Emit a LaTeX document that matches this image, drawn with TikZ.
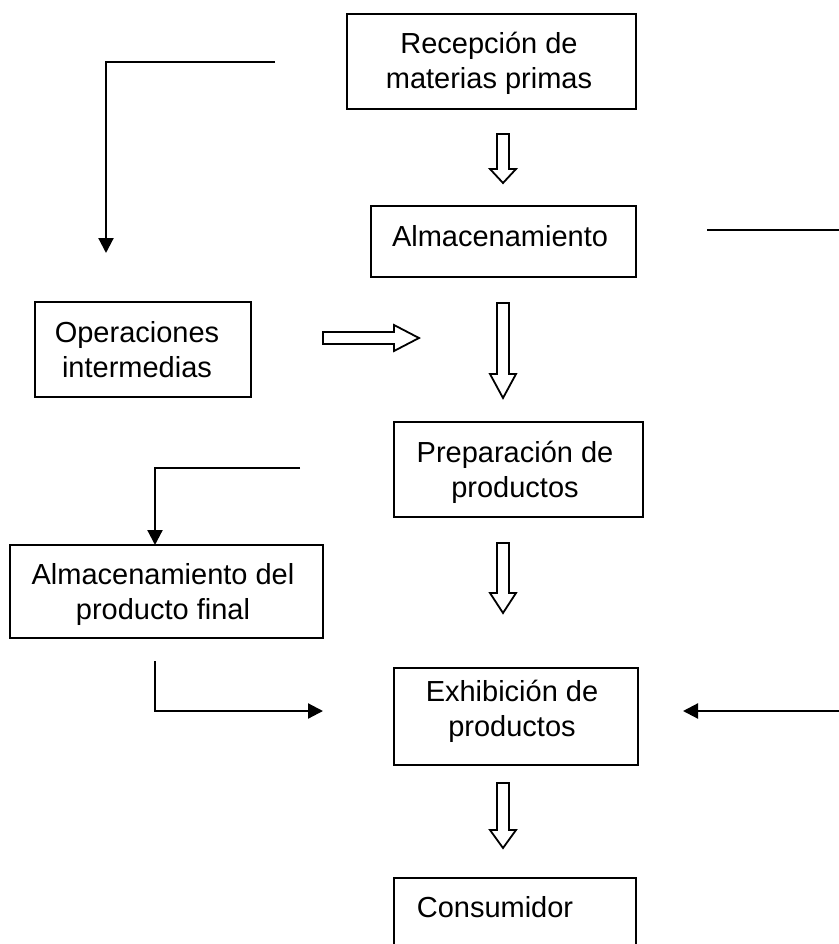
\documentclass[tikz,border=0pt]{standalone}
\usepackage{fontspec}
\setmainfont{Liberation Sans}
\usetikzlibrary{arrows.meta}
\tikzset{
  box/.style={draw, line width=2pt, inner sep=0pt},
  txt/.style={align=center, inner sep=0pt, font=\fontsize{29}{35}\selectfont},
  hollow/.style={draw, line width=1.8pt, fill=white, line join=miter},
  conn/.style={line width=2.2pt, -{Triangle[length=15pt,width=15pt]}},
  plain/.style={line width=2.2pt}
}
\newcommand\hdown[4]{%
  \draw[hollow] ({#1-6},#2) -- ({#1+6},#2) -- ({#1+6},#3) -- ({#1+13},#3) -- (#1,#4) -- ({#1-13},#3) -- ({#1-6},#3) -- cycle;}
\begin{document}
\begin{tikzpicture}[x=1pt,y=-1pt]
\useasboundingbox (0,0) rectangle (838,944);
% boxes
\node[box, minimum width=289, minimum height=95] (rec) at (491.5,61.5) {};
\node[txt] (rect) at (489,63.5) {Recepción de\\materias primas};
\node[box, minimum width=265, minimum height=71] (alm) at (503.5,241.5) {};
\node[txt, anchor=base] (almt) at (500,246) {Almacenamiento};
\node[box, minimum width=216, minimum height=95] (ope) at (143,349.5) {};
\node[txt] (opet) at (137,349.5) {Operaciones\\intermedias};
\node[box, minimum width=249, minimum height=95] (pre) at (518.5,469.5) {};
\node[txt] (pret) at (515,472) {Preparación de\\productos};
\node[box, minimum width=313, minimum height=93] (apf) at (166.5,591.5) {};
\node[txt] (apft) at (163,594.5) {Almacenamiento del\\producto final};
\node[box, minimum width=244, minimum height=97] (exh) at (516,716.5) {};
\node[txt] (exht) at (512,711.5) {Exhibición de\\productos};
\node[box, minimum width=242, minimum height=70] (con) at (515,913) {};
\node[txt, anchor=base] (cont) at (495,917) {Consumidor};
% hollow arrows
\hdown{503}{134}{169}{183}
\hdown{503}{303}{374}{398}
\hdown{503}{543}{593}{613}
\hdown{503}{783}{830}{848}
\draw[hollow] (323,332) -- (394,332) -- (394,325) -- (419,338) -- (394,351) -- (394,344) -- (323,344) -- cycle;
% solid connectors
\coordinate (l1s) at (275,62);
\coordinate (l1e) at (106,253);
\draw[conn] (l1s) -| (l1e);
\coordinate (l2s) at (707,230);
\coordinate (l2e) at (840,230);
\draw[plain] (l2s) -- (l2e);
\coordinate (l3s) at (300,468);
\coordinate (l3e) at (155,545);
\draw[conn] (l3s) -| (l3e);
\coordinate (l4s) at (155,661);
\coordinate (l4e) at (323,711);
\draw[conn] (l4s) |- (l4e);
\coordinate (l5s) at (840,711);
\coordinate (l5e) at (683,711);
\draw[conn] (l5s) -- (l5e);
\end{tikzpicture}
\end{document}
